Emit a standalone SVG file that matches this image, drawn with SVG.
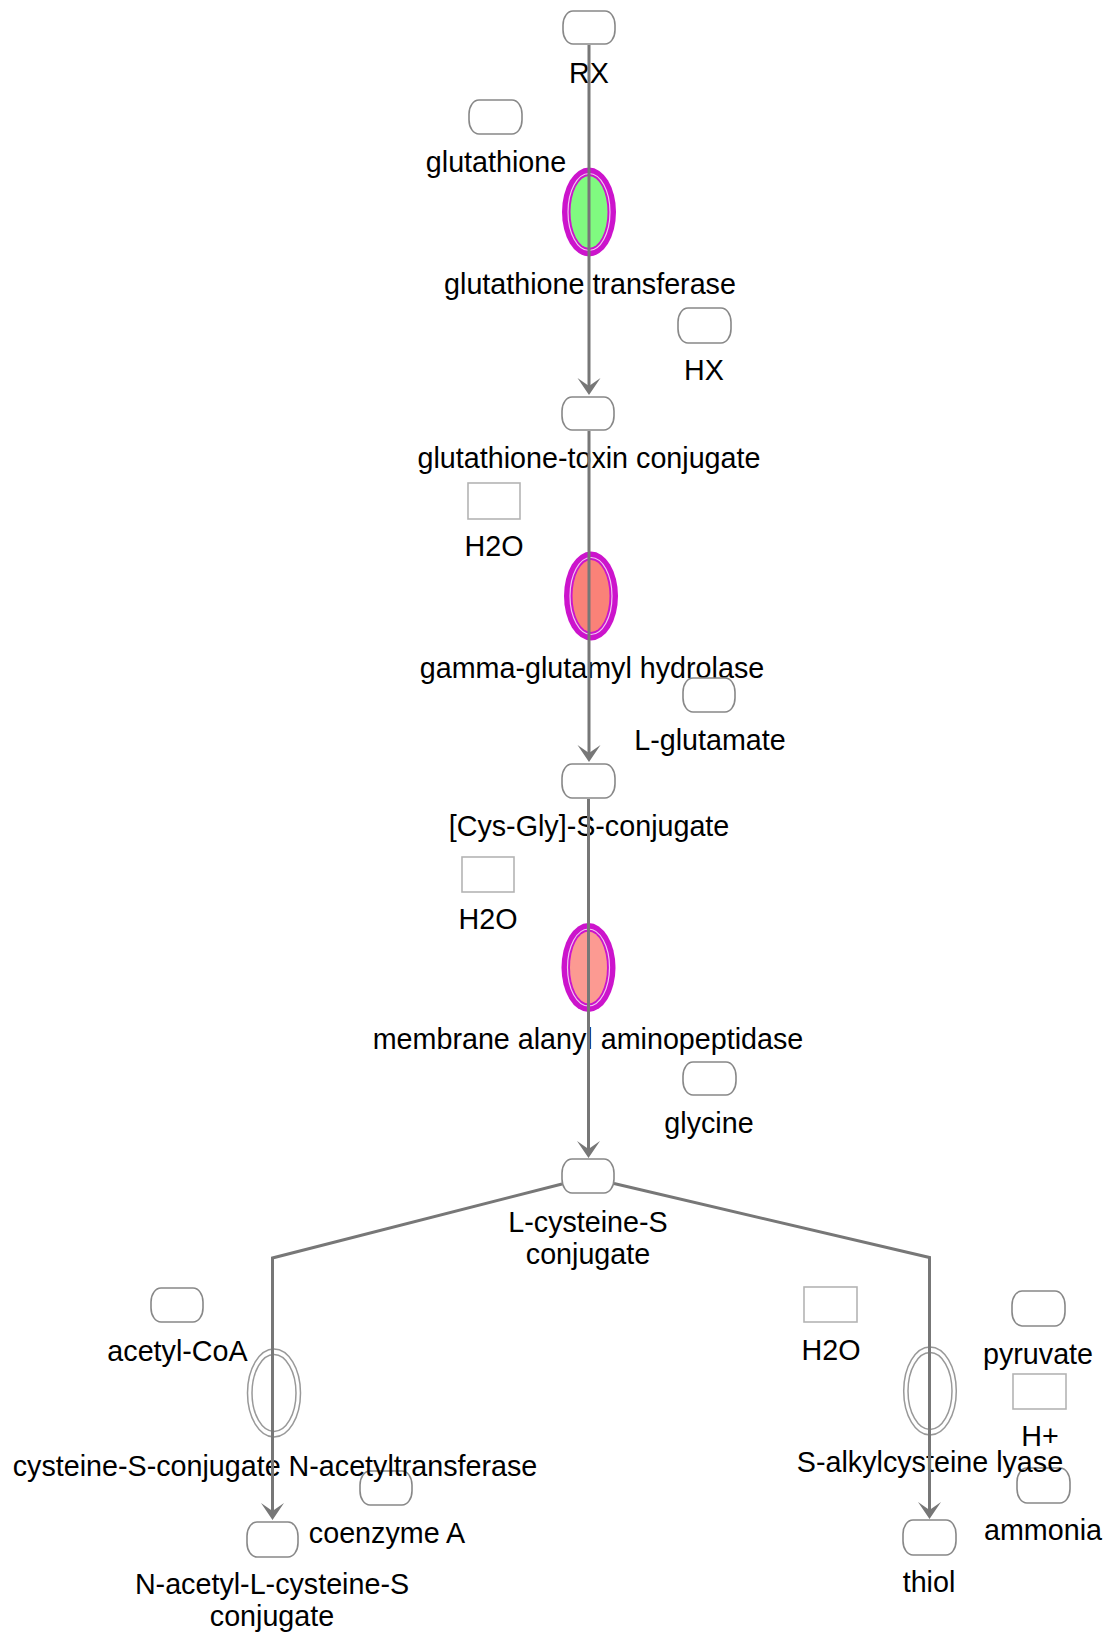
<svg xmlns="http://www.w3.org/2000/svg" width="1110" height="1634" viewBox="0 0 1110 1634">
<style>
text{font-family:"Liberation Sans",Arial,sans-serif;font-size:28.7px;fill:#000;text-anchor:middle}
.mol{fill:#fff;stroke:#888;stroke-width:1.6}
.sq{fill:#fff;stroke:#b4b4b4;stroke-width:1.6}
.enz{fill:#fff;stroke:#999;stroke-width:1.5}
.hl{fill:#cc14cc}
.lt{fill:none;stroke:#f2c4f2;stroke-width:1.2}
.con{fill:none;stroke:#777;stroke-width:3}
</style>
<defs>
<marker id="arr" markerUnits="userSpaceOnUse" viewBox="-14 -13 19 26" markerWidth="19" markerHeight="26" refX="0" refY="0" orient="auto">
<path d="M4,0 L-13,-11.5 L-5,0 L-13,11.5 Z" fill="#777"/>
</marker>
</defs>
<rect width="1110" height="1634" fill="#fff"/>

<g id="rx"><rect class="mol" x="563" y="11" width="52" height="33" rx="10" ry="14"/><text x="589" y="83">RX</text></g>
<g id="glutathione"><rect class="mol" x="469" y="100" width="53" height="34" rx="10" ry="14"/><text x="496" y="172">glutathione</text></g>
<g id="gst"><ellipse class="hl" cx="589" cy="212" rx="27" ry="44.5"/><ellipse class="lt" cx="589" cy="212" rx="21" ry="38.5"/><ellipse cx="589" cy="212" rx="18.5" ry="36" fill="#80fa80"/><text x="590" y="294">glutathione transferase</text></g>
<g id="hx"><rect class="mol" x="678" y="308" width="53" height="35" rx="10" ry="14"/><text x="704" y="380">HX</text></g>
<g id="gs-toxin"><rect class="mol" x="562" y="397" width="52" height="33" rx="10" ry="14"/><text x="589" y="468">glutathione-toxin conjugate</text></g>
<g id="h2o-1"><rect class="sq" x="468" y="483" width="52" height="36"/><text x="494" y="556">H2O</text></g>
<g id="ggh"><ellipse class="hl" cx="591" cy="596" rx="27" ry="44.5"/><ellipse class="lt" cx="591" cy="596" rx="21" ry="38.5"/><ellipse cx="591" cy="596" rx="18.5" ry="36" fill="#fa8278"/><text x="592" y="678">gamma-glutamyl hydrolase</text></g>
<g id="l-glutamate"><rect class="mol" x="683" y="678" width="52" height="34" rx="10" ry="14"/><text x="710" y="750">L-glutamate</text></g>
<g id="cysgly"><rect class="mol" x="562" y="764" width="53" height="34" rx="10" ry="14"/><text x="589" y="836">[Cys-Gly]-S-conjugate</text></g>
<g id="h2o-2"><rect class="sq" x="462" y="857" width="52" height="35"/><text x="488" y="929">H2O</text></g>
<g id="anpep"><ellipse class="hl" cx="588.5" cy="967.5" rx="27" ry="44.5"/><ellipse class="lt" cx="588.5" cy="967.5" rx="21" ry="38.5"/><ellipse cx="588.5" cy="967.5" rx="18.5" ry="36" fill="#fc9a92"/><text x="588" y="1049">membrane alanyl aminopeptidase</text></g>
<g id="glycine"><rect class="mol" x="683" y="1062" width="53" height="33" rx="10" ry="14"/><text x="709" y="1133">glycine</text></g>
<g id="lcys"><rect class="mol" x="562" y="1159" width="52" height="34" rx="10" ry="14"/><text x="588" y="1232">L-cysteine-S</text><text x="588" y="1264">conjugate</text></g>
<g id="acetyl-coa"><rect class="mol" x="151" y="1288" width="52" height="34" rx="10" ry="14"/><text x="177.5" y="1361">acetyl-CoA</text></g>
<g id="coa"><rect class="mol" x="360" y="1471" width="52" height="34" rx="10" ry="14"/></g>
<g id="nat"><ellipse class="enz" cx="274" cy="1393" rx="26.5" ry="44"/><ellipse class="enz" cx="274" cy="1393" rx="22" ry="38.5"/><text x="275" y="1476">cysteine-S-conjugate N-acetyltransferase</text></g>
<g id="coa-label"><text x="387" y="1543">coenzyme A</text></g>
<g id="nacetyl"><rect class="mol" x="247" y="1522" width="51" height="35" rx="10" ry="14"/><text x="272" y="1594">N-acetyl-L-cysteine-S</text><text x="272" y="1626">conjugate</text></g>
<g id="h2o-3"><rect class="sq" x="804" y="1287" width="53" height="35"/><text x="831" y="1360">H2O</text></g>
<g id="pyruvate"><rect class="mol" x="1012" y="1291" width="53" height="35" rx="10" ry="14"/><text x="1038" y="1364">pyruvate</text></g>
<g id="hplus"><rect class="sq" x="1013" y="1374" width="53" height="35"/><text x="1040" y="1446">H+</text></g>
<g id="ammonia"><rect class="mol" x="1017" y="1468" width="53" height="35" rx="10" ry="14"/><text x="1043" y="1540">ammonia</text></g>
<g id="lyase"><ellipse class="enz" cx="930" cy="1391" rx="26.3" ry="44"/><ellipse class="enz" cx="930" cy="1391" rx="22" ry="38.5"/><text x="930" y="1472">S-alkylcysteine lyase</text></g>
<g id="thiol"><rect class="mol" x="903" y="1520" width="53" height="35" rx="10" ry="14"/><text x="929" y="1592">thiol</text></g>

<g id="connectors">
<path class="con" d="M589,45 L589,391" marker-end="url(#arr)"/>
<path class="con" d="M589,431 L589,758" marker-end="url(#arr)"/>
<path class="con" d="M588.5,799 L588.5,1154" marker-end="url(#arr)"/>
<path class="con" d="M562,1184 L272.5,1258 L272.5,1516" marker-end="url(#arr)"/>
<path class="con" d="M614,1183.5 L929.5,1257.5 L929.5,1515" marker-end="url(#arr)"/>
</g>
</svg>
